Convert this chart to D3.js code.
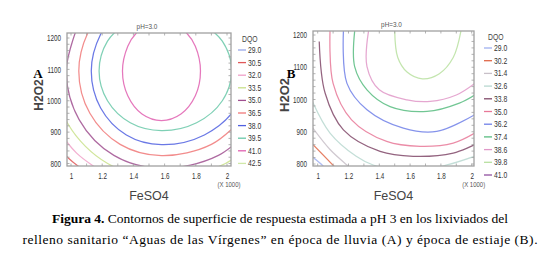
<!DOCTYPE html>
<html>
<head>
<meta charset="utf-8">
<script src="https://cdn.jsdelivr.net/npm/d3@7"></script>
<style>
  body { margin: 0; background: #fff; }
  svg { display: block; }
</style>
</head>
<body>
<svg id="fig" width="560" height="254"></svg>
<script>
// Axis ticks (FeSO4 is in thousands)
const feso4Ticks = [1, 1.2, 1.4, 1.6, 1.8, 2];
const h2o2Ticks = [800, 900, 1000, 1100, 1200];

// DQO contour levels shown in each legend
const levelsA = [29.0, 30.5, 32.0, 33.5, 35.0, 36.5, 38.0, 39.5, 41.0, 42.5];
const levelsB = [29.0, 30.2, 31.4, 32.6, 33.8, 35.0, 36.2, 37.4, 38.6, 39.8, 41.0];

// Contour lines: [FeSO4 (x1000), H2O2]
const contoursA = [
  { level: 41.0, pts: [[1.495,1243],[1.419,1216],[1.364,1174],[1.33,1095],[1.364,1016],[1.455,958],[1.58,937],[1.705,958],[1.797,1016],[1.83,1095],[1.797,1174],[1.741,1216],[1.666,1243]] },
  { level: 39.5, pts: [[1.38,1259],[1.234,1190],[1.18,1095],[1.234,1000],[1.38,930],[1.58,905],[1.805,930],[1.97,1000],[2.03,1095],[1.97,1190],[1.805,1259]] },
  { level: 38.0, pts: [[1.291,1275],[1.19,1212],[1.13,1095],[1.19,977],[1.355,891],[1.58,860],[1.855,891],[2.056,977],[2.13,1095]] },
  { level: 36.5, pts: [[1.239,1302],[1.121,1230],[1.05,1095],[1.121,960],[1.315,861],[1.58,825],[1.90,861],[2.134,960]] },
  { level: 35.0, pts: [[1.052,1250],[0.97,1095],[1.052,940],[1.275,826],[1.58,785],[1.945,826],[2.212,940]] },
  { level: 33.5, pts: [[0.89,1095],[0.982,925],[1.235,800],[1.58,755],[1.99,800],[2.29,925]] },
  { level: 32.0, pts: [[0.913,910],[1.036,833],[1.195,775]] },
  { level: 30.5, pts: [[0.853,897],[0.986,816],[1.16,753]] }
];

const contoursB = [
  { level: 39.8, pts: [[1.50,1212],[1.52,1130],[1.58,1085],[1.68,1064],[1.79,1080],[1.88,1130],[1.93,1212]] },
  { level: 38.6, pts: [[1.33,1212],[1.32,1102],[1.40,1030],[1.58,999],[1.73,994],[1.90,1014],[2.02,1050]] },
  { level: 37.4, pts: [[1.24,1212],[1.24,1102],[1.32,1030],[1.47,978],[1.71,963],[1.92,989],[2.02,1014]] },
  { level: 36.2, pts: [[1.167,1212],[1.19,1050],[1.32,968],[1.556,911],[1.773,901],[2.02,953]] },
  { level: 35.0, pts: [[1.08,1212],[1.10,1050],[1.22,937],[1.448,870],[1.665,855],[1.88,865],[2.02,896]] },
  { level: 33.8, pts: [[1.01,1180],[1.048,1020],[1.167,906],[1.405,839],[1.62,824],[1.88,834],[2.02,860]] },
  { level: 32.6, pts: [[0.96,1000],[1.08,896],[1.25,824],[1.36,797],[1.60,775],[1.84,797],[2.02,824]] },
  { level: 31.4, pts: [[0.96,917],[1.08,845],[1.19,797],[1.22,785]] },
  { level: 30.2, pts: [[0.96,865],[1.10,796],[1.12,785]] },
  { level: 29.0, pts: [[0.96,824],[1.03,796],[1.05,785]] }
];

// Line colours used by the plotting package for each level
const colA = d3.scaleOrdinal().domain(levelsA)
  .range(["#98a8e8", "#e05858", "#f0a0c8", "#c8e088", "#a05090", "#f07878", "#5060e0", "#68c8a8", "#e060b0", "#d0e8a8"]);
const colB = d3.scaleOrdinal().domain(levelsB)
  .range(["#a0b0f0", "#e06848", "#c8c0c8", "#b8d8d0", "#804868", "#e87898", "#7080e8", "#58bc80", "#e098c8", "#b8e0a0", "#9050a0"]);

const svg = d3.select("#fig");
svg.append("rect").attr("width", 560).attr("height", 254).attr("fill", "#fff");

const sans = "'Liberation Sans', Arial, sans-serif";

// squeeze text horizontally, the original uses a narrow face
function condense(sel, k) {
  sel.each(function () {
    const w = this.getComputedTextLength();
    d3.select(this).attr("textLength", w * k).attr("lengthAdjust", "spacingAndGlyphs");
  });
}

function drawPanel(p) {
  const x = d3.scaleLinear().domain([1, 2]).range(p.xr);
  const y = d3.scaleLinear().domain([800, 1200]).range(p.yr);
  const g = svg.append("g");

  g.append("clipPath").attr("id", "clip" + p.id)
    .append("rect")
    .attr("x", p.box[0]).attr("y", p.box[1])
    .attr("width", p.box[2] - p.box[0]).attr("height", p.box[3] - p.box[1]);

  // contour lines
  const line = d3.line()
    .x(d => x(d[0]))
    .y(d => y(d[1]))
    .curve(d3.curveCatmullRom.alpha(0.5));

  g.append("g").attr("clip-path", `url(#clip${p.id})`)
    .selectAll("path")
    .data(p.contours)
    .enter().append("path")
    .attr("d", d => line(d.pts))
    .attr("fill", "none")
    .attr("stroke", d => p.col(d.level))
    .attr("stroke-width", 1.25)
    .attr("stroke-opacity", 0.85);

  // frame
  g.append("rect")
    .attr("x", p.box[0]).attr("y", p.box[1])
    .attr("width", p.box[2] - p.box[0]).attr("height", p.box[3] - p.box[1])
    .attr("fill", "none").attr("stroke", "#a0a0a0").attr("stroke-width", 1.3);

  // minor inward ticks
  const yMinor = d3.range(800, 1201, 20);
  const xMinor = d3.range(1, 2.001, 0.1);
  const tick = (data, x1, x2, y1, y2) => g.append("g").selectAll("line").data(data).enter().append("line")
    .attr("x1", x1).attr("x2", x2).attr("y1", y1).attr("y2", y2)
    .attr("stroke", "#a0a0a0").attr("stroke-width", 0.8);
  tick(yMinor, p.box[0], p.box[0] + 2.5, d => y(d), d => y(d));
  tick(yMinor, p.box[2], p.box[2] - 2.5, d => y(d), d => y(d));
  tick(xMinor, d => x(d), d => x(d), p.box[1], p.box[1] + 2.5);
  tick(xMinor, d => x(d), d => x(d), p.box[3], p.box[3] - 2.5);

  // axes (labels only, the frame draws the lines)
  const xAxis = g.append("g")
    .attr("transform", `translate(0,${p.box[3] + 4})`)
    .call(d3.axisBottom(x).tickValues(feso4Ticks).tickSize(0).tickFormat(d3.format("")));
  const yAxis = g.append("g")
    .attr("transform", `translate(${p.box[0] - 3},0)`)
    .call(d3.axisLeft(y).tickValues(h2o2Ticks).tickSize(0).tickFormat(d3.format("d")));
  [xAxis, yAxis].forEach(a => {
    a.select(".domain").remove();
    a.selectAll("text").attr("font-family", sans).attr("font-size", 8.5).attr("fill", "#333");
    condense(a.selectAll("text"), 0.74);
  });

  const xk = g.append("text").attr("x", x(2) + 2).attr("y", p.box[3] + 21)
    .attr("text-anchor", "middle").attr("font-family", sans)
    .attr("font-size", 7.5).attr("fill", "#555").text("(X 1000)");
  condense(xk, 0.8);

  const ph = g.append("text").attr("x", (p.box[0] + p.box[2]) / 2 - 2).attr("y", p.box[1] - 4)
    .attr("text-anchor", "middle").attr("font-family", sans)
    .attr("font-size", 8).attr("fill", "#555").text("pH=3.0");
  condense(ph, 0.8);

  // axis titles
  g.append("text").attr("x", (p.box[0] + p.box[2]) / 2).attr("y", 200)
    .attr("text-anchor", "middle").attr("font-family", sans)
    .attr("font-size", 12.5).attr("fill", "#444").text("FeSO4");
  g.append("text")
    .attr("transform", `translate(${p.ytx},${p.yty}) rotate(-90)`)
    .attr("text-anchor", "middle").attr("font-family", sans)
    .attr("font-size", p.yfs).attr("font-weight", "bold").attr("fill", "#444").text("H2O2");

  // panel letter
  g.append("text").attr("x", p.lx).attr("y", p.ly)
    .attr("text-anchor", "middle").attr("font-family", "'Liberation Serif', 'Times New Roman', serif")
    .attr("font-size", 13).attr("font-weight", "bold").attr("fill", "#000").text(p.letter);

  // legend
  const leg = g.append("g");
  const t = leg.append("text").attr("x", p.legX + 4).attr("y", p.legY0 - 8)
    .attr("font-family", sans).attr("font-size", 8.5).attr("fill", "#444").text("DQO");
  condense(t, 0.8);
  const item = leg.selectAll("g.item").data(p.levels).enter().append("g")
    .attr("class", "item")
    .attr("transform", (d, i) => `translate(${p.legX},${p.legY0 + i * p.legStep})`);
  item.append("line").attr("x1", 0).attr("x2", 8).attr("y1", 0).attr("y2", 0)
    .attr("stroke", d => p.col(d)).attr("stroke-width", 1.3);
  const lt = item.append("text").attr("x", 10).attr("y", 3)
    .attr("font-family", sans).attr("font-size", 8.5).attr("fill", "#333")
    .text(d => d3.format(".1f")(d));
  condense(lt, 0.8);
}

drawPanel({
  id: "A", letter: "A", lx: 38, ly: 78,
  xr: [71, 227], yr: [163.5, 38], box: [67, 33, 231, 166],
  contours: contoursA, levels: levelsA, col: colA,
  ytx: 43, yty: 95, yfs: 12,
  legX: 238, legY0: 50, legStep: 12.6
});

drawPanel({
  id: "B", letter: "B", lx: 291, ly: 78,
  xr: [317.7, 471.7], yr: [164, 35], box: [313, 31, 474, 166],
  contours: contoursB, levels: levelsB, col: colB,
  ytx: 289, yty: 95, yfs: 13,
  legX: 484, legY0: 48, legStep: 12.7
});

// caption
const cap = svg.append("g").attr("font-family", "'Liberation Serif', 'Times New Roman', serif")
  .attr("font-size", 13.5).attr("fill", "#000").attr("text-anchor", "middle");
const l1 = cap.append("text").attr("x", 280).attr("y", 223)
  .attr("textLength", 456).attr("lengthAdjust", "spacing");
l1.append("tspan").attr("font-weight", "bold").text("Figura 4.");
l1.append("tspan").text(" Contornos de superficie de respuesta estimada a pH 3 en los lixiviados del");
cap.append("text").attr("x", 280).attr("y", 244)
  .attr("textLength", 515).attr("lengthAdjust", "spacing")
  .text("relleno sanitario “Aguas de las Vírgenes” en época de lluvia (A) y época de estiaje (B).");
</script>
</body>
</html>
